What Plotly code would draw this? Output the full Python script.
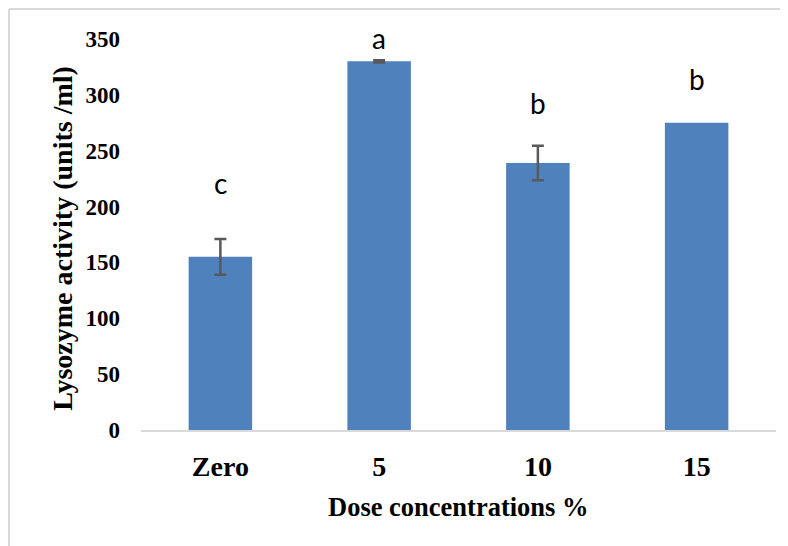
import plotly.graph_objects as go

categories = ["Zero", "5", "10", "15"]
values = [155, 330, 239, 275]
errors = [16, 1, 15.5, 0]
letters = ["c", "a", "b", "b"]
letter_y = [221, 351, 293, 314]
y_ticks = [0, 50, 100, 150, 200, 250, 300, 350]
y_max = 350

SERIF = "Liberation Serif, Times New Roman, serif"

fig = go.Figure()
fig.add_trace(go.Bar(
    x=categories, y=values,
    marker=dict(color="#4f81bd", line=dict(width=0)),
    width=0.4,
))

# error bars only where an error value exists
eb = [(c, v, e) for c, v, e in zip(categories, values, errors) if e > 0]
fig.add_trace(go.Scatter(
    x=[c for c, _, _ in eb], y=[v for _, v, _ in eb],
    mode="markers", marker=dict(size=1, opacity=0),
    error_y=dict(type="data", array=[e for _, _, e in eb], visible=True,
                 color="#595959", thickness=2.5, width=6),
    hoverinfo="skip",
))

# category axes: annotations positioned by category index
for i, (ly, t) in enumerate(zip(letter_y, letters)):
    fig.add_annotation(x=i, y=ly / y_max, yref="y domain", text=t, showarrow=False,
                       font=dict(family="Lato, Open Sans, sans-serif", size=28, color="#000000"),
                       xanchor="center", yanchor="middle")

fig.add_annotation(xref="paper", yref="paper", x=0.5, y=-0.197,
                   text="Dose concentrations %", showarrow=False,
                   font=dict(family=SERIF, size=26.5, color="#000000", weight="bold"),
                   xanchor="center", yanchor="middle")
fig.add_annotation(xref="paper", yref="paper", x=-0.124, y=0.49,
                   text="Lysozyme activity (units /ml)", showarrow=False, textangle=-90,
                   font=dict(family=SERIF, size=28, color="#000000", weight="bold"),
                   xanchor="center", yanchor="middle")

# outer frame (left and top edges)
fig.add_shape(type="line", xref="paper", yref="paper",
              x0=-0.2079, x1=-0.2079, y0=1.0767, y1=-0.4, line=dict(color="#d9d9d9", width=2))
fig.add_shape(type="line", xref="paper", yref="paper",
              x0=-0.2079, x1=1.05, y0=1.0767, y1=1.0767, line=dict(color="#d9d9d9", width=2))

fig.update_layout(
    width=788, height=546,
    margin=dict(l=133, r=20, t=31, b=124),
    paper_bgcolor="white", plot_bgcolor="white",
    showlegend=False,
    xaxis=dict(
        type="category", range=[-0.5, 3.5],
        categoryorder="array", categoryarray=categories,
        showline=True, linecolor="#d9d9d9", linewidth=2,
        ticks="", showgrid=False,
        tickfont=dict(family=SERIF, size=28, color="#000000", weight="bold"),
        ticklabelstandoff=10,
    ),
    yaxis=dict(
        range=[0, y_max], tickvals=y_ticks,
        showline=False, showgrid=False, zeroline=False, ticks="",
        tickfont=dict(family=SERIF, size=23, color="#000000", weight="bold"),
        ticklabelstandoff=20,
    ),
    font=dict(family=SERIF),
)

fig.write_html("out.html")
